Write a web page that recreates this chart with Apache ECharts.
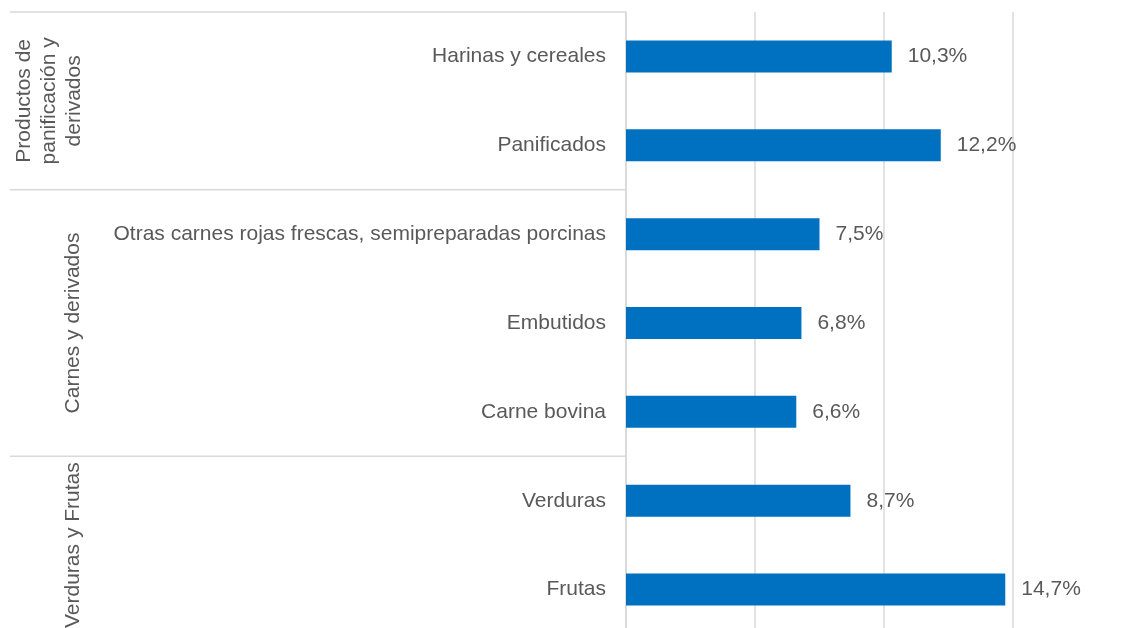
<!DOCTYPE html>
<html lang="es">
  <head>
    <meta charset="UTF-8" />
    <title>Variación por producto</title>
    <script src="https://cdn.jsdelivr.net/npm/echarts@6/dist/echarts.min.js"></script>
    <style>
      html, body { margin: 0; padding: 0; background: #fff; }
    </style>
  </head>
  <body>
    <div id="chart" style="width: 1129px; height: 628px"></div>
    <script>
      const categories = [
        "Harinas y cereales",
        "Panificados",
        "Otras carnes rojas frescas, semipreparadas porcinas",
        "Embutidos",
        "Carne bovina",
        "Verduras",
        "Frutas",
      ];
      const values = [10.3, 12.2, 7.5, 6.8, 6.6, 8.7, 14.7];
      // groups: label + index of first and last category
      const groupNames = [
        "Productos de\npanificación y\nderivados",
        "Carnes y derivados",
        "Verduras y Frutas",
      ];
      const groupStart = [0, 2, 5];
      const groupEnd = [1, 4, 6];

      const font = "'Liberation Sans', Arial, Helvetica, sans-serif";
      const textColor = "#595959";
      const lineColor = "#d9d9d9";

      const chart = echarts.init(document.getElementById("chart"));
      chart.setOption({
        animation: false,
        // plot runs past the bottom edge, as in the original
        grid: { left: 626, right: 116, top: 12, height: 622, outerBoundsMode: "none", containLabel: false },
        xAxis: {
          type: "value",
          min: 0,
          max: 15,
          interval: 5,
          axisLabel: { show: false },
          axisLine: { show: false },
          axisTick: { show: false },
          splitLine: { lineStyle: { color: lineColor, width: 1.5 } },
        },
        yAxis: {
          type: "category",
          data: categories,
          inverse: true,
          axisLine: { show: true, lineStyle: { color: lineColor, width: 1.5 } },
          axisTick: { show: false },
          axisLabel: {
            color: textColor,
            fontFamily: font,
            fontSize: 21,
            margin: 20,
          },
        },
        series: [
          {
            type: "bar",
            data: values,
            barWidth: 32,
            itemStyle: { color: "#0070c0" },
            label: {
              show: true,
              position: "right",
              distance: 16,
              color: textColor,
              fontFamily: font,
              fontSize: 21,
              formatter: (p) => p.value.toFixed(1).replace(".", ",") + "%",
            },
          },
        ],
      });

      // group separators and rotated group names, placed from the category axis
      const band = chart.convertToPixel({ yAxisIndex: 0 }, 1) - chart.convertToPixel({ yAxisIndex: 0 }, 0);
      const axisX = chart.convertToPixel({ xAxisIndex: 0 }, 0);
      const graphics = [];
      groupNames.forEach((name, i) => {
        const top = chart.convertToPixel({ yAxisIndex: 0 }, groupStart[i]) - band / 2;
        const bottom = chart.convertToPixel({ yAxisIndex: 0 }, groupEnd[i]) + band / 2;
        graphics.push({
          type: "line",
          shape: { x1: 10, y1: top, x2: axisX, y2: top },
          style: { stroke: lineColor, lineWidth: 1.5 },
        });
        graphics.push({
          type: "text",
          x: i === 0 ? 49 : 73,
          y: (top + bottom) / 2,
          rotation: Math.PI / 2,
          style: {
            text: name,
            fill: textColor,
            font: "21px " + font,
            align: "center",
            verticalAlign: "middle",
            lineHeight: 25,
          },
        });
      });
      chart.setOption({ graphic: graphics });
    </script>
  </body>
</html>
